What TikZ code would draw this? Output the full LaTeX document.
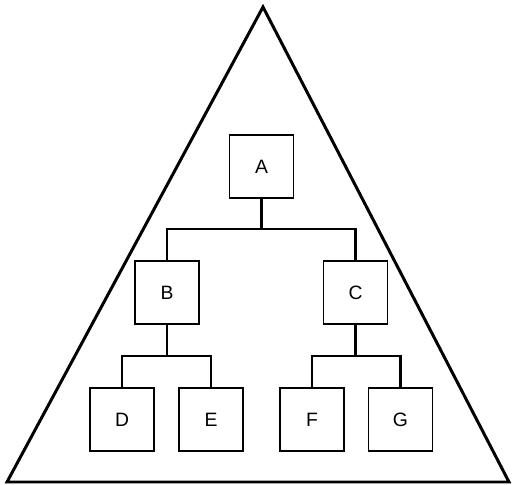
\documentclass[tikz,border=0pt]{standalone}
\usepackage{fontspec}
\setmainfont{Liberation Sans}
\usetikzlibrary{positioning}

\begin{document}
\begin{tikzpicture}[
    font=\fontsize{11}{13}\selectfont,
    box/.style={draw, line width=0.6pt, minimum width=1.28cm, minimum height=1.26cm, inner sep=0pt},
    link/.style={line width=1.4pt},
    frame/.style={line width=1.7pt},
]
\useasboundingbox (0,0) rectangle (10.24,-9.70);
\draw[frame] (0.14,-9.64) -- (10.18,-9.64) -- (5.26,-0.14) -- cycle;
\node[box] (A) at (5.23,-3.33) {A};
\node[box] (B) at (3.34,-5.85) {B};
\node[box] (C) at (7.11,-5.85) {C};
\node[box] (D) at (2.44,-8.39) {D};
\node[box] (E) at (4.22,-8.39) {E};
\node[box] (F) at (6.24,-8.39) {F};
\node[box] (G) at (8.01,-8.39) {G};
\draw[link] (A.south) -- ++(0,-0.61) -| (B.north);
\draw[link] (A.south) -- ++(0,-0.61) -| (C.north);
\draw[link] (B.south) -- ++(0,-0.63) -| (D.north);
\draw[link] (B.south) -- ++(0,-0.63) -| (E.north);
\draw[link] (C.south) -- ++(0,-0.63) -| (F.north);
\draw[link] (C.south) -- ++(0,-0.63) -| (G.north);
\end{tikzpicture}
\end{document}
